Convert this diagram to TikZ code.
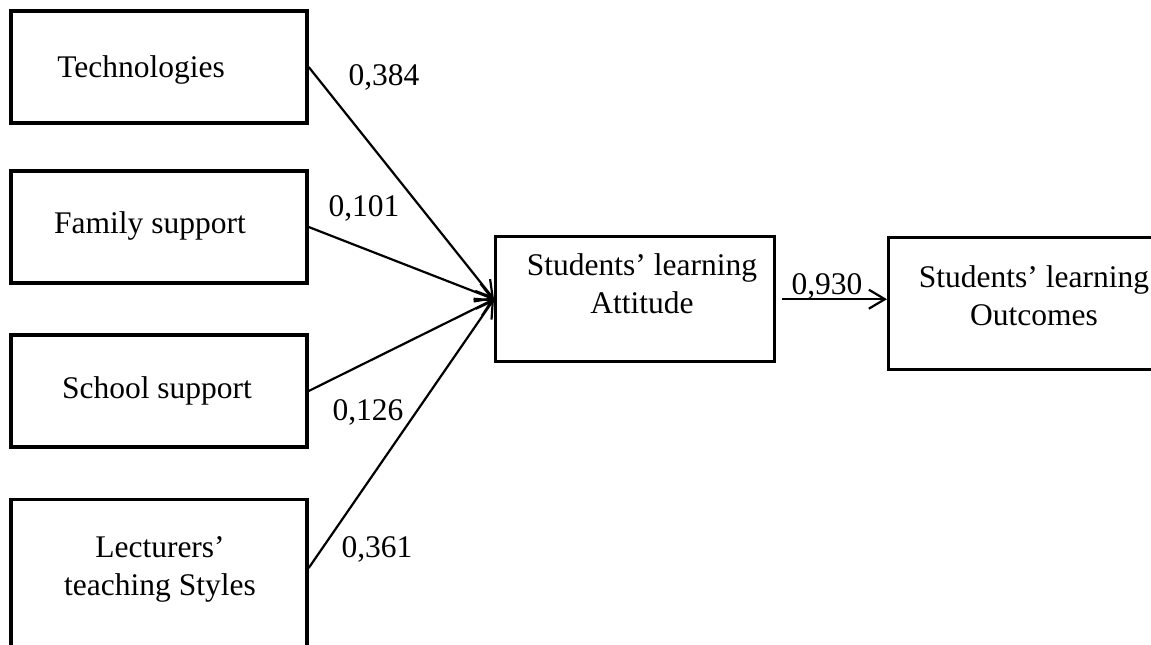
\documentclass[tikz,border=0pt]{standalone}
\usepackage{fontspec}
\setmainfont{Liberation Serif}
\usetikzlibrary{arrows.meta}
\begin{document}
\begin{tikzpicture}[x=1pt,y=-1pt,
  box/.style={draw, line width=3.4pt, rectangle, inner sep=0pt, minimum width=296pt, minimum height=112pt},
  txt/.style={font=\fontsize{31.5}{37.8}\selectfont, inner sep=0pt, align=center, anchor=base},
  lab/.style={font=\fontsize{31.5}{37.8}\selectfont, inner sep=0pt, anchor=base},
  link/.style={line width=2.2pt, -{Straight Barb[length=16pt,width=19pt]}}]
\useasboundingbox (0,0) rectangle (1151,645);
% left boxes
\node[box] (b1) at (159,67) {};
\node[box] (b2) at (159,227) {};
\node[box] (b3) at (159,391) {};
\node[box, minimum height=230pt, anchor=north] (b4) at (159,498) {};
\coordinate (l4) at (b4.north east |- 0,568);
% middle and right boxes
\node[box, minimum width=279pt, minimum height=125pt, anchor=north west] (att) at (494,235) {};
\node[box, minimum width=310pt, minimum height=132pt, anchor=north west] (out) at (887,236) {};
% texts
\node[txt] (t1) at (141,77) {Technologies};
\node[txt] (t2) at (150,233) {Family support};
\node[txt] (t3) at (157,398) {School support};
\node[txt] (t4) at (160,595) {Lecturers’\\teaching Styles};
\node[txt] (t5) at (642,313) {Students’ learning\\Attitude};
\node[txt] (t6) at (1034,325) {Students’ learning\\Outcomes};
% connectors
\draw[link] (b1.east) -- (att.west);
\draw[link] (b2.east) -- (att.west);
\draw[link] (b3.east) -- (att.west);
\draw[link] (l4) -- (att.west);
\draw[link, shorten <=6pt] (att.east) -- (att.east -| out.west);
% labels
\node[lab] (w1) at (384,85) {0,384};
\node[lab] (w2) at (364,216) {0,101};
\node[lab] (w3) at (368,420) {0,126};
\node[lab] (w4) at (377,557) {0,361};
\node[lab] (w5) at (827,294) {0,930};
\end{tikzpicture}
\end{document}
